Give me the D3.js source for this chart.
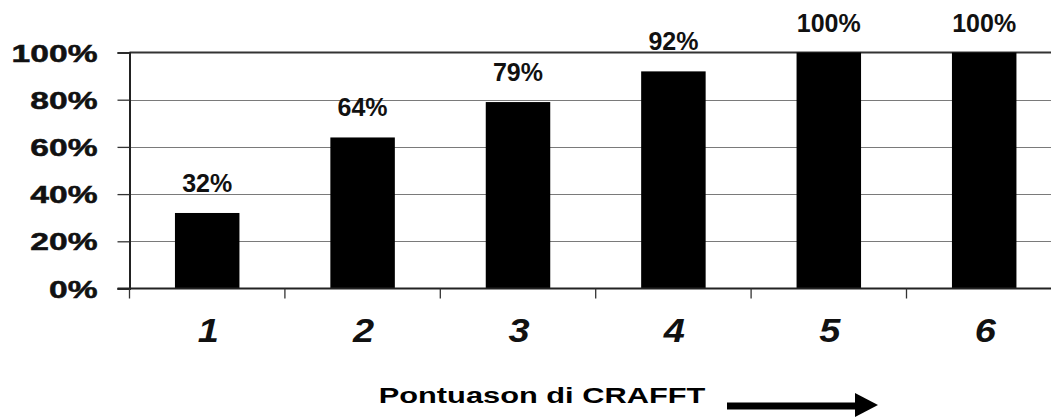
<!DOCTYPE html>
<html>
<head>
<meta charset="utf-8">
<script src="https://cdn.jsdelivr.net/npm/d3@7"></script>
<style>
  body { margin: 0; background: #fff; }
  svg { display: block; font-family: "Liberation Sans", Arial, sans-serif; }
</style>
</head>
<body>
<div id="chart"></div>
<script>
// data
var scores = ["1", "2", "3", "4", "5", "6"];
var shares = [0.32, 0.64, 0.79, 0.92, 1.00, 1.00];
var shareLabels = ["32%", "64%", "79%", "92%", "100%", "100%"];
var yTicks = [0, 0.2, 0.4, 0.6, 0.8, 1.0];
var axisTitle = "Pontuason di CRAFFT";

var width = 1051, height = 419;
var plotLeft = 129.5, plotBottom = 288.5, plotTop = 52.5;
var step = 155.4;

var svg = d3.select("#chart").append("svg")
    .attr("width", width).attr("height", height);

var x = d3.scaleBand().domain(scores).range([plotLeft, plotLeft + step * scores.length])
    .paddingInner(0.585).paddingOuter(0.2925);
var y = d3.scaleLinear().domain([0, 1]).range([plotBottom, plotTop]);

// gridlines
svg.append("g").selectAll("line").data(yTicks.filter(function (d) { return d > 0 && d < 1; }))
    .enter().append("line")
    .attr("x1", plotLeft).attr("x2", width)
    .attr("y1", function (d) { return Math.round(y(d)) + 0.5; })
    .attr("y2", function (d) { return Math.round(y(d)) + 0.5; })
    .attr("stroke", "#7a7a7a").attr("stroke-width", 1.2);

// top border
svg.append("line").attr("x1", plotLeft).attr("x2", width).attr("y1", y(1)).attr("y2", y(1))
    .attr("stroke", "#333").attr("stroke-width", 2);

// bars
svg.append("g").selectAll("rect").data(shares).enter().append("rect")
    .attr("x", function (d, i) { return x(scores[i]); })
    .attr("y", function (d) { return y(d); })
    .attr("width", x.bandwidth())
    .attr("height", function (d) { return y(0) - y(d); })
    .attr("fill", "#000");

// y axis
var yAxis = svg.append("g").attr("transform", "translate(" + plotLeft + ",0)")
    .call(d3.axisLeft(y).tickValues(yTicks).tickSize(12).tickFormat(d3.format(".0%")));
yAxis.select(".domain").attr("stroke", "#222").attr("stroke-width", 2);
yAxis.selectAll(".tick line").attr("stroke", "#333").attr("stroke-width", 1.3);
yAxis.selectAll(".tick text").remove();
yAxis.selectAll(".tick").append("text")
    .attr("transform", "translate(-32,8.5) scale(1.4,1)")
    .attr("text-anchor", "end")
    .attr("fill", "#111")
    .attr("stroke", "#111").attr("stroke-width", 0.5)
    .style("font-size", "24px").style("font-weight", "bold")
    .text(function (d) { return d3.format(".0%")(d); });

// x axis: ticks at category boundaries
var xAxis = svg.append("g").attr("transform", "translate(0," + plotBottom + ")");
xAxis.append("line").attr("x1", plotLeft - 12).attr("x2", width).attr("stroke", "#222").attr("stroke-width", 2);
xAxis.selectAll(".bound").data(d3.range(scores.length)).enter().append("line")
    .attr("x1", function (i) { return plotLeft + i * step; })
    .attr("x2", function (i) { return plotLeft + i * step; })
    .attr("y1", 0).attr("y2", 10)
    .attr("stroke", "#333").attr("stroke-width", 1.3);
xAxis.selectAll(".cat").data(scores).enter().append("text")
    .attr("transform", function (d) { return "translate(" + (x(d) + x.bandwidth() / 2 + 1) + ",53) scale(1.15,1)"; })
    .attr("text-anchor", "middle")
    .attr("fill", "#111")
    .style("font-size", "33px").style("font-weight", "bold").style("font-style", "italic")
    .text(function (d) { return d; });

// value labels
svg.append("g").selectAll("text").data(shares).enter().append("text")
    .attr("x", function (d, i) { return x(scores[i]) + x.bandwidth() / 2; })
    .attr("y", function (d) { return y(d) - 21; })
    .attr("text-anchor", "middle")
    .attr("fill", "#111")
    .style("font-size", "25px").style("font-weight", "bold")
    .text(function (d, i) { return shareLabels[i]; });

// axis title with arrow
svg.append("text")
    .attr("transform", "translate(542,403) scale(1.4,1)")
    .attr("text-anchor", "middle")
    .attr("fill", "#000")
    .style("font-size", "22px").style("font-weight", "bold")
    .text(axisTitle);
svg.append("line").attr("x1", 727).attr("x2", 857).attr("y1", 406).attr("y2", 406)
    .attr("stroke", "#000").attr("stroke-width", 7);
svg.append("path").attr("d", "M855,393L878,405L855,417Z").attr("fill", "#000");
</script>
</body>
</html>
